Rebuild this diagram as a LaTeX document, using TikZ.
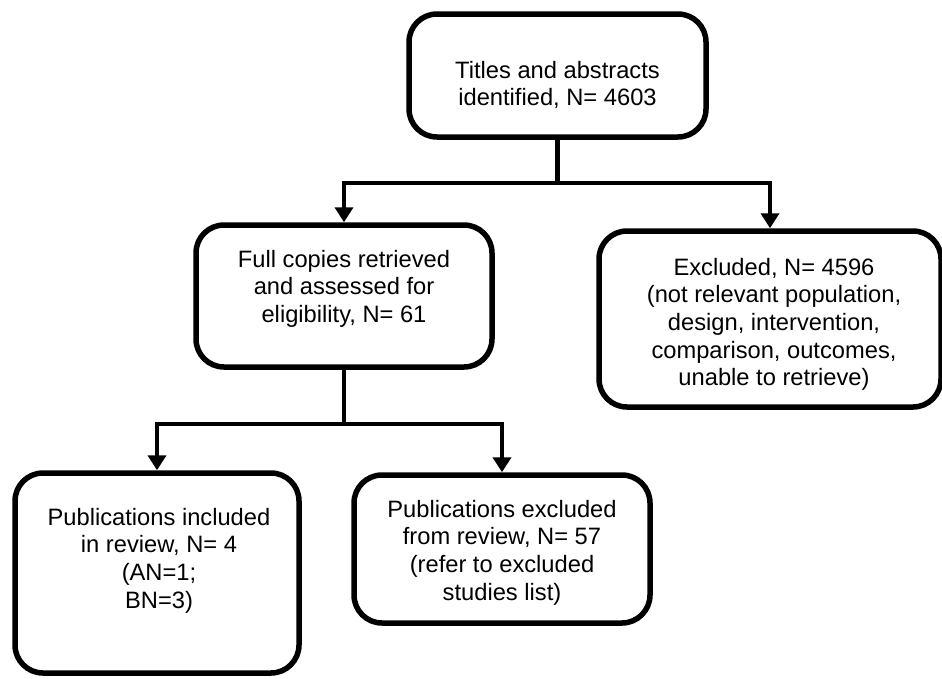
\documentclass[tikz,border=0pt]{standalone}
\usepackage{fontspec}
\setmainfont{Liberation Sans}
\usetikzlibrary{arrows.meta}
\begin{document}
\begin{tikzpicture}[x=1pt,y=-1pt,
 box/.style={draw, line width=5.5pt, rounded corners=28pt, inner sep=0pt},
 txt/.style={align=center, inner sep=0pt, anchor=north, font=\fontsize{23.7}{27.7}\selectfont},
 conn/.style={line width=4.5pt},
 arr/.style={line width=4.5pt, -{Triangle[length=15pt,width=18pt]}}]
\useasboundingbox (0,0) rectangle (942,678);
\node[box, minimum width=297pt, minimum height=123pt] (top) at (557.5,75.5) {};
\node[box, minimum width=296pt, minimum height=142pt] (mid) at (344,296) {};
\node[box, minimum width=342pt, minimum height=176pt] (excl) at (770,319) {};
\node[box, minimum width=284pt, minimum height=200pt] (inc) at (157,573) {};
\node[box, minimum width=296pt, minimum height=148pt] (exc2) at (502,549) {};
\node[txt] (ttop) at (557.5,60.7) {Titles and abstracts\\identified, N= 4603};
\node[txt] (tmid) at (344,249.7) {Full copies retrieved\\and assessed for\\eligibility, N= 61};
\node[txt] (texcl) at (774,257.7) {Excluded, N= 4596\\(not relevant population,\\design, intervention,\\comparison, outcomes,\\unable to retrieve)};
\node[txt] (tinc) at (159,507.7) {Publications included\\in review, N= 4\\(AN=1;\\BN=3)};
\node[txt] (texc2) at (502,499.7) {Publications excluded\\from review, N= 57\\(refer to excluded\\studies list)};
\coordinate (j1) at (557.5,183);
\draw[conn] (top.south) -- (j1);
\draw[arr] (j1) -| (mid.north);
\draw[arr] (j1) -| (excl.north);
\coordinate (j2) at (344,424);
\draw[conn] (mid.south) -- (j2);
\draw[arr] (j2) -| (inc.north);
\draw[arr] (j2) -| (exc2.north);
\end{tikzpicture}
\end{document}
